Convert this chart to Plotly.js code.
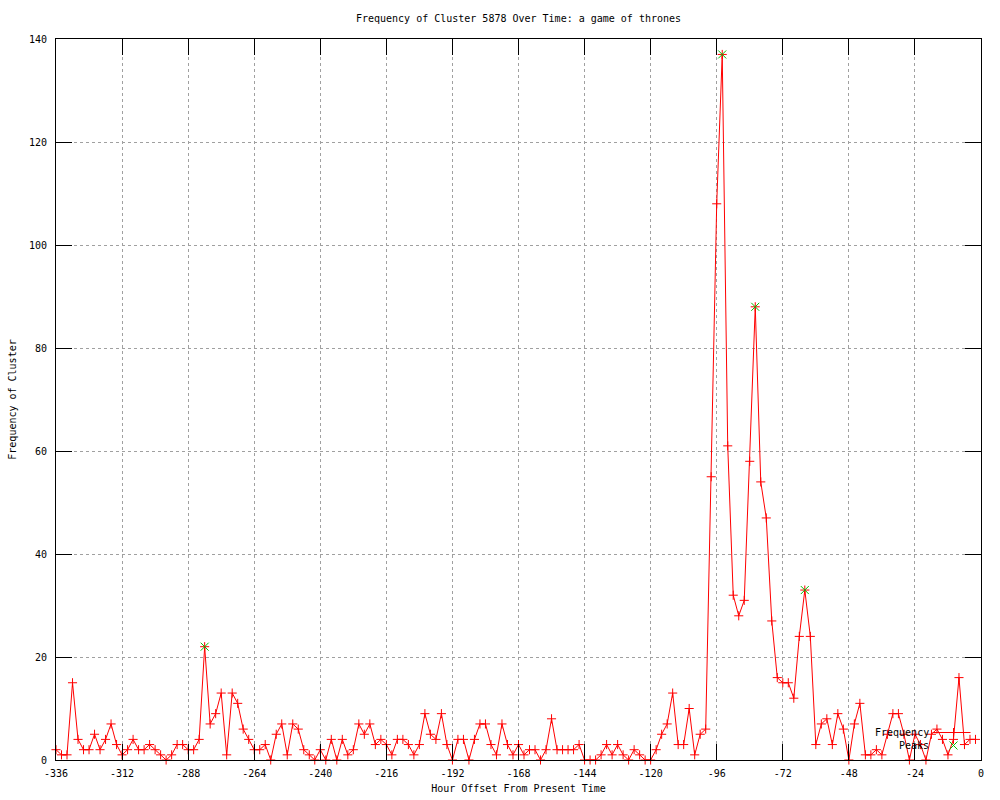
<!DOCTYPE html>
<html>
<head>
<meta charset="utf-8">
<script src="https://cdn.plot.ly/plotly-3.0.1.min.js"></script>
<style>html,body{margin:0;padding:0;background:#fff;}#chart{width:1000px;height:800px;}</style>
</head>
<body>
<div id="chart"></div>
<script>
const hours = [
-336,-334,-332,-330,-328,-326,-324,-322,-320,-318,
-316,-314,-312,-310,-308,-306,-304,-302,-300,-298,
-296,-294,-292,-290,-288,-286,-284,-282,-280,-278,
-276,-274,-272,-270,-268,-266,-264,-262,-260,-258,
-256,-254,-252,-250,-248,-246,-244,-242,-240,-238,
-236,-234,-232,-230,-228,-226,-224,-222,-220,-218,
-216,-214,-212,-210,-208,-206,-204,-202,-200,-198,
-196,-194,-192,-190,-188,-186,-184,-182,-180,-178,
-176,-174,-172,-170,-168,-166,-164,-162,-160,-158,
-156,-154,-152,-150,-148,-146,-144,-142,-140,-138,
-136,-134,-132,-130,-128,-126,-124,-122,-120,-118,
-116,-114,-112,-110,-108,-106,-104,-102,-100,-98,
-96,-94,-92,-90,-88,-86,-84,-82,-80,-78,
-76,-74,-72,-70,-68,-66,-64,-62,-60,-58,
-56,-54,-52,-50,-48,-46,-44,-42,-40,-38,
-36,-34,-32,-30,-28,-26,-24,-22,-20,-18,
-16,-14,-12,-10,-8,-6,-4,-2
];
const frequency = [
2,1,1,15,4,2,2,5,2,4,
7,3,1,2,4,2,2,3,2,1,
0,1,3,3,2,2,4,22,7,9,
13,1,13,11,6,4,2,2,3,0,
5,7,1,7,6,2,1,0,2,0,
4,0,4,1,2,7,5,7,3,4,
3,1,4,4,3,1,3,9,5,4,
9,3,0,4,4,0,4,7,7,3,
1,7,3,1,3,1,2,2,0,2,
8,2,2,2,2,3,0,0,0,1,
3,1,3,1,0,2,1,0,0,2,
5,7,13,3,3,10,1,5,6,55,
108,137,61,32,28,31,58,88,54,47,
27,16,15,15,12,24,33,24,3,7,
8,3,9,6,0,7,11,1,1,2,
1,5,9,9,5,0,5,3,0,5,
6,4,1,4,16,3,4,4
];
const peakHours = [-282, -94, -82, -64];
const peakValues = [22, 137, 88, 33];

const xTickVals = [-336,-312,-288,-264,-240,-216,-192,-168,-144,-120,-96,-72,-48,-24,0];
const xTickText = ["-336","-312","-288","-264","-240","-216","-192","-168","-144","-120","-96","-72","-48","-24","0"];
const yTickVals = [0,20,40,60,80,100,120,140];
const yTickText = ["0","20","40","60","80","100","120","140"];

const FONT = "'DejaVu Sans Mono', 'Liberation Mono', monospace";
const RED = "#ff0000";
const GREEN = "#00c000";

const traces = [
  {
    x: hours, y: frequency, name: "Frequency",
    type: "scatter", mode: "lines+markers",
    line: {color: RED, width: 1},
    marker: {symbol: "cross-thin-open", size: 6.5, color: RED, line: {color: RED, width: 1}},
    cliponaxis: false, showlegend: false
  },
  {
    x: peakHours, y: peakValues, name: "Peaks",
    type: "scatter", mode: "markers",
    marker: {symbol: "x-thin-open", size: 8, color: GREEN, line: {color: GREEN, width: 1}},
    cliponaxis: false, showlegend: false
  }
];

const axisCommon = {
  showline: true, linecolor: "#000", linewidth: 1, mirror: "ticks",
  ticks: "inside", ticklen: 16, tickwidth: 1, tickcolor: "#000",
  showgrid: true, gridcolor: "#a0a0a0", gridwidth: 1, griddash: "3px,3px",
  zeroline: false, automargin: false,
  tickfont: {family: FONT, size: 10, color: "#000"}
};

// legend samples (pixel-sized, anchored in paper space)
const lx = (953.5 - 56) / 925;
const ly1 = (760 - 732.5) / 721;
const ly2 = (760 - 745.5) / 721;

const layout = {
  width: 1000, height: 800,
  margin: {l: 56, r: 19, t: 39, b: 40},
  paper_bgcolor: "#fff", plot_bgcolor: "#fff",
  font: {family: FONT, size: 10, color: "#000"},
  title: {text: "Frequency of Cluster 5878 Over Time: a game of thrones",
          x: 0.5, xref: "paper", xanchor: "center",
          y: 1 - 18/800, yref: "container", yanchor: "middle",
          font: {family: FONT, size: 10, color: "#000"}},
  xaxis: Object.assign({}, axisCommon, {
    range: [-336, 0], tickmode: "array", tickvals: xTickVals, ticktext: xTickText,
    ticklabelstandoff: 4,
    title: {text: "Hour Offset From Present Time", standoff: 6, font: {family: FONT, size: 10, color: "#000"}}
  }),
  yaxis: Object.assign({}, axisCommon, {
    range: [0, 140], tickmode: "array", tickvals: yTickVals, ticktext: yTickText,
    ticklabelstandoff: 6,
    title: {text: "Frequency of Cluster", standoff: 10, font: {family: FONT, size: 10, color: "#000"}}
  }),
  showlegend: false,
  annotations: [
    {text: "Frequency", xref: "paper", yref: "paper", x: (931-56)/925, y: ly1,
     xanchor: "right", yanchor: "middle", showarrow: false, font: {family: FONT, size: 10, color: "#000"}},
    {text: "Peaks", xref: "paper", yref: "paper", x: (931-56)/925, y: ly2,
     xanchor: "right", yanchor: "middle", showarrow: false, font: {family: FONT, size: 10, color: "#000"}}
  ],
  shapes: [
    {type: "line", xref: "paper", yref: "paper", xsizemode: "pixel", xanchor: lx,
     x0: -21, x1: 17, y0: ly1, y1: ly1, line: {color: RED, width: 1}},
    {type: "line", xref: "paper", yref: "paper", xsizemode: "pixel", ysizemode: "pixel",
     xanchor: lx, yanchor: ly1, x0: 0, x1: 0, y0: -4.5, y1: 4.5, line: {color: RED, width: 1}},
    {type: "line", xref: "paper", yref: "paper", xsizemode: "pixel", ysizemode: "pixel",
     xanchor: lx, yanchor: ly2, x0: -4, x1: 4, y0: -4, y1: 4, line: {color: GREEN, width: 1}},
    {type: "line", xref: "paper", yref: "paper", xsizemode: "pixel", ysizemode: "pixel",
     xanchor: lx, yanchor: ly2, x0: -4, x1: 4, y0: 4, y1: -4, line: {color: GREEN, width: 1}}
  ]
};

Plotly.newPlot("chart", traces, layout, {displayModeBar: false, staticPlot: true});
</script>
</body>
</html>
